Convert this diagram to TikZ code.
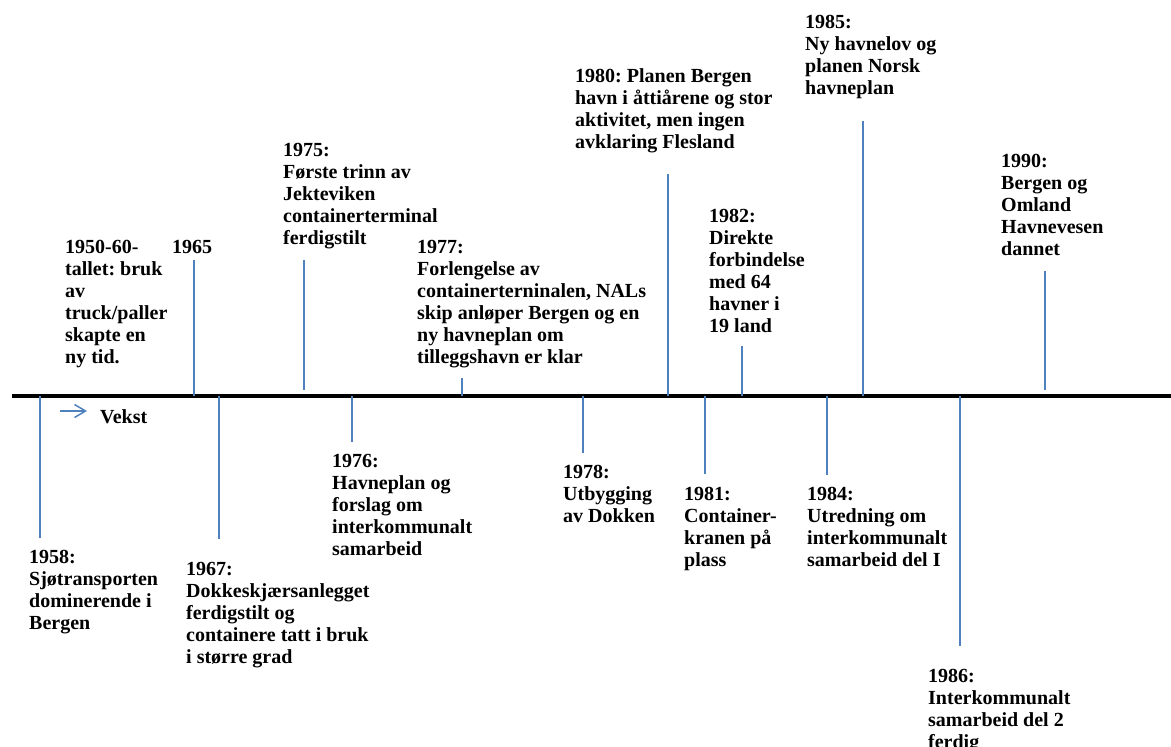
\documentclass[tikz,border=0pt]{standalone}
\usepackage{fontspec}
\setmainfont{Liberation Serif}
\usetikzlibrary{arrows.meta}
\definecolor{tickblue}{HTML}{4F81BD}
\newcommand{\lblfont}{\fontsize{20}{22}\selectfont\bfseries\frenchspacing}
\begin{document}
\begin{tikzpicture}[x=1pt,y=-1pt,
  lbl/.style={anchor=north west, inner sep=0pt, align=left, font=\lblfont},
  stem/.style={draw=tickblue, line width=2pt},
  axisline/.style={draw=black, line width=4pt}]
\useasboundingbox (0,0) rectangle (1171,747);
\clip (0,0) rectangle (1171,747);
% axis
\coordinate (axL) at (12,396);
\coordinate (axR) at (1171,396);
\draw[axisline] (axL) -- (axR);
% growth arrow
\coordinate (vA) at (60,411);
\coordinate (vB) at (87,411);
\draw[draw=tickblue, line width=1.5pt, -{Straight Barb[length=11pt,width=13pt]}] (vA) -- (vB);
\node[anchor=base west, inner sep=0pt, font=\lblfont] (vekst) at (100,423) {Vekst};
% upper ticks
\foreach \n/\x/\top/\bot in {1965/194/260/396, 1975/304/260/390, 1977/462/378/396, 1980/668/174/396, 1982/742/346/396, 1985/863/121/396, 1990/1045/271/390}{
  \coordinate (a\n) at (\x,\bot);
  \coordinate (e\n) at (\x,\top);
  \draw[stem] (a\n) -- (e\n);
}
% lower ticks
\foreach \n/\x/\bot in {1958/40/538, 1967/219/539, 1976/352/442, 1978/583/453, 1981/705/474, 1984/827/475, 1986/960/646}{
  \coordinate (a\n) at (\x,396);
  \coordinate (e\n) at (\x,\bot);
  \draw[stem] (a\n) -- (e\n);
}
% upper labels
\node[lbl] (t1950) at (65,237.6) {\strut 1950-60-\\tallet: bruk\\av\\truck/paller\\skapte en\\ny tid.};
\node[lbl] (t1965) at (172,237.6) {\strut 1965};
\node[lbl] (t1975) at (283,140.6) {\strut 1975:\\Første trinn av\\Jekteviken\\containerterminal\\ferdigstilt};
\node[lbl] (t1977) at (417,237.6) {\strut 1977:\\Forlengelse av\\containerterninalen, NALs\\skip anløper Bergen og en\\ny havneplan om\\tilleggshavn er klar};
\node[lbl] (t1980) at (575,66.6) {\strut 1980: Planen Bergen\\havn i åttiårene og stor\\aktivitet, men ingen\\avklaring Flesland};
\node[lbl] (t1982) at (709,206.6) {\strut 1982:\\Direkte\\forbindelse\\med 64\\havner i\\19 land};
\node[lbl] (t1985) at (805,12.6) {\strut 1985:\\Ny havnelov og\\planen Norsk\\havneplan};
\node[lbl] (t1990) at (1001,151.6) {\strut 1990:\\Bergen og\\Omland\\Havnevesen\\dannet};
% lower labels
\node[lbl] (t1958) at (29,547.6) {\strut 1958:\\Sjøtransporten\\dominerende i\\Bergen};
\node[lbl] (t1967) at (186,559.6) {\strut 1967:\\Dokkeskjærsanlegget\\ferdigstilt og\\containere tatt i bruk\\i større grad};
\node[lbl] (t1976) at (332,451.6) {\strut 1976:\\Havneplan og\\forslag om\\interkommunalt\\samarbeid};
\node[lbl] (t1978) at (563,462.6) {\strut 1978:\\Utbygging\\av Dokken};
\node[lbl] (t1981) at (684,484.6) {\strut 1981:\\Container-\\kranen på\\plass};
\node[lbl] (t1984) at (807,484.6) {\strut 1984:\\Utredning om\\interkommunalt\\samarbeid del I};
\node[lbl] (t1986) at (928,666.6) {\strut 1986:\\Interkommunalt\\samarbeid del 2\\ferdig};
\end{tikzpicture}
\end{document}
